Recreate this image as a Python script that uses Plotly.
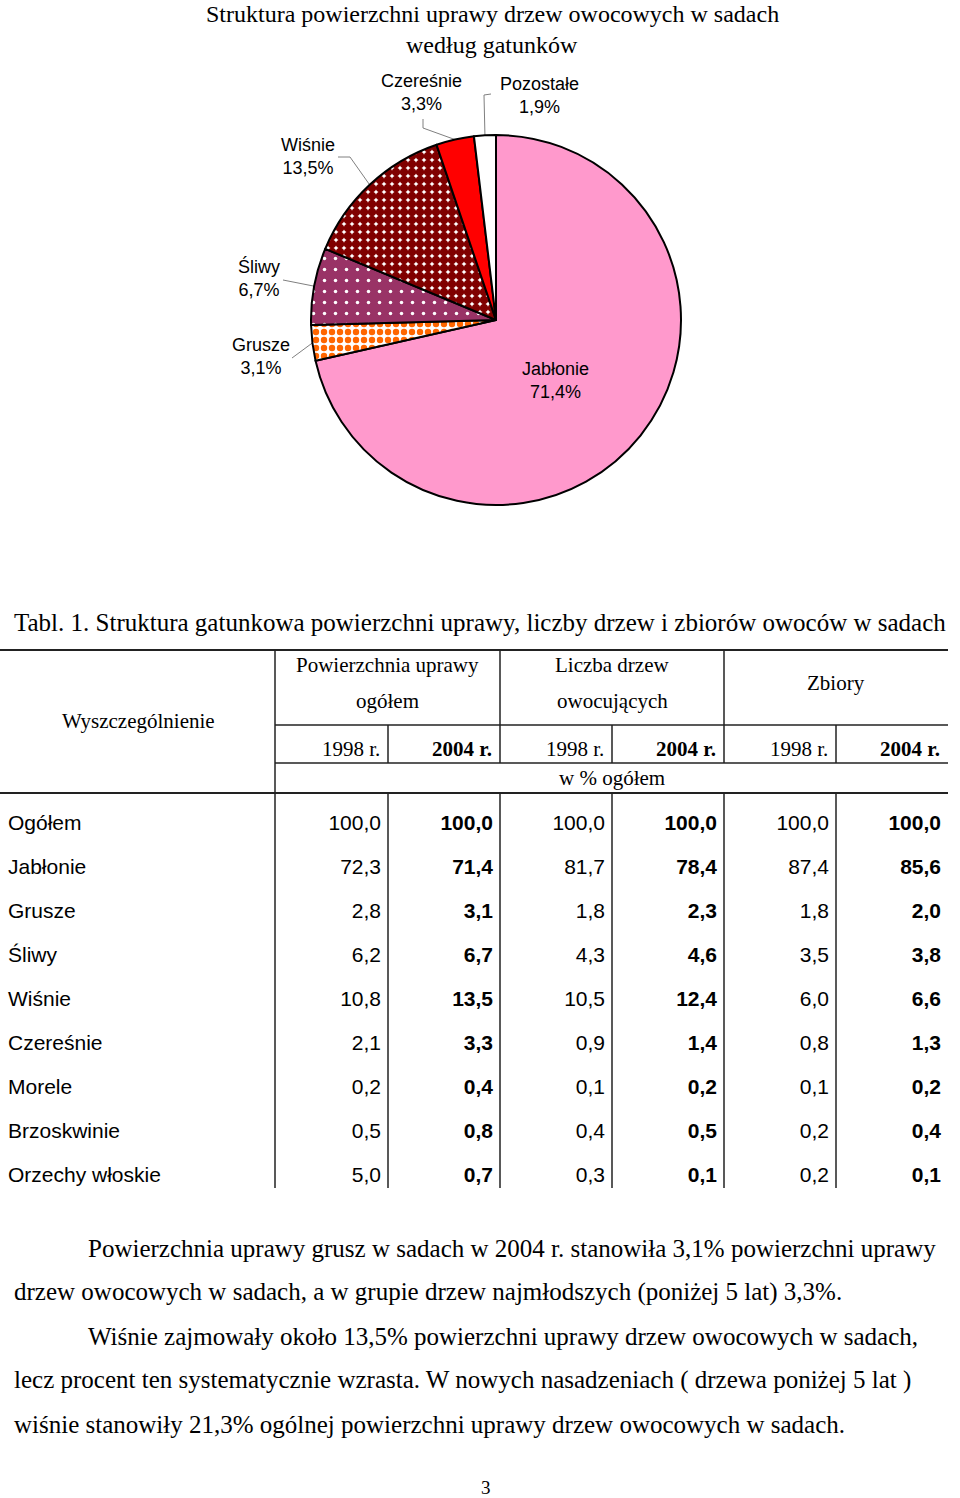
"""
plot.py — Pie chart + table page: structure of fruit orchards by species.
"""

import math

import plotly.graph_objects as go

# ============================================================
# Data
# ============================================================

pie_species = ["Jabłonie", "Grusze", "Śliwy", "Wiśnie", "Czereśnie", "Pozostałe"]
pie_share   = [71.4, 3.1, 6.7, 13.5, 3.3, 1.9]

row_names = ["Ogółem", "Jabłonie", "Grusze", "Śliwy", "Wiśnie", "Czereśnie",
             "Morele", "Brzoskwinie", "Orzechy włoskie"]
area_1998    = [100.0, 72.3, 2.8, 6.2, 10.8, 2.1, 0.2, 0.5, 5.0]
area_2004    = [100.0, 71.4, 3.1, 6.7, 13.5, 3.3, 0.4, 0.8, 0.7]
trees_1998   = [100.0, 81.7, 1.8, 4.3, 10.5, 0.9, 0.1, 0.4, 0.3]
trees_2004   = [100.0, 78.4, 2.3, 4.6, 12.4, 1.4, 0.2, 0.5, 0.1]
harvest_1998 = [100.0, 87.4, 1.8, 3.5, 6.0, 0.8, 0.1, 0.2, 0.2]
harvest_2004 = [100.0, 85.6, 2.0, 3.8, 6.6, 1.3, 0.2, 0.4, 0.1]

group_headers = [("Powierzchnia uprawy", "ogółem"), ("Liczba drzew", "owocujących"), ("Zbiory", "")]
year_labels   = ["1998 r.", "2004 r."]

title_lines = ["Struktura powierzchni uprawy drzew owocowych w sadach", "według gatunków"]

paragraph_lines = [
    "Powierzchnia uprawy grusz w sadach w 2004 r. stanowiła 3,1% powierzchni uprawy",
    "drzew owocowych w sadach, a w grupie drzew najmłodszych (poniżej 5 lat) 3,3%.",
    "Wiśnie zajmowały około 13,5% powierzchni uprawy drzew owocowych w sadach,",
    "lecz procent ten systematycznie wzrasta. W nowych nasadzeniach ( drzewa poniżej 5 lat )",
    "wiśnie stanowiły 21,3% ogólnej powierzchni uprawy drzew owocowych w sadach.",
]

# ============================================================
# Page geometry (pixels, y down)
# ============================================================

W, H = 960, 1498
SERIF = "Liberation Serif, Times New Roman, serif"
SANS  = "Liberation Sans, Arial, sans-serif"

PIE_CX, PIE_CY, PIE_R = 496, 320, 185

col_edges = [0, 275, 388, 500, 612, 724, 836, 948]
row_y0, row_pitch = 825, 44
table_bottom = 1188


def fmt(v):
    return f"{v:.1f}".replace(".", ",")


fig = go.Figure()

# ------------------------------------------------------------
# Pie
# ------------------------------------------------------------
fig.add_trace(go.Pie(
    labels=pie_species,
    values=pie_share,
    sort=False,
    direction="clockwise",
    rotation=0,
    textinfo="none",
    hoverinfo="skip",
    showlegend=False,
    domain=dict(x=[(PIE_CX - PIE_R) / W, (PIE_CX + PIE_R) / W],
                y=[1 - (PIE_CY + PIE_R) / H, 1 - (PIE_CY - PIE_R) / H]),
    marker=dict(
        colors=["#FF99CC", "#FF6600", "#993366", "#800000", "#FF0000", "#FFFFFF"],
        line=dict(color="#000000", width=2),
        pattern=dict(
            shape=["", ".", ".", ".", "", ""],
            bgcolor=["#FF99CC", "#FFFFFF", "#993366", "#FFFFFF", "#FF0000", "#FFFFFF"],
            fgcolor=["#FF99CC", "#FF6600", "#FFFFFF", "#800000", "#FF0000", "#FFFFFF"],
            size=[8, 8, 11, 8, 8, 8],
            solidity=[0.3, 0.5, 0.08, 0.82, 0.3, 0.3],
            fillmode="replace",
        ),
    ),
))

# Labels + leader lines (edge point from each slice's mid angle)
total = sum(pie_share)
label_pos = {
    "Jabłonie":  (555, 380, None),
    "Grusze":    (261, 356, [(292, 358)]),
    "Śliwy":     (259, 278, [(283, 280)]),
    "Wiśnie":    (308, 156, [(338, 157), (350, 157)]),
    "Czereśnie": (421, 92, [(423, 119), (423, 128)]),
    "Pozostałe": (539, 95, [(491, 94), (484, 95)]),
}
cum = 0.0
for name, share in zip(pie_species, pie_share):
    mid = (cum + share / 2) / total * 2 * math.pi
    cum += share
    lx, ly, elbow = label_pos[name]
    fig.add_annotation(x=lx, y=ly, xref="x", yref="y", showarrow=False,
                       text=f"{name}<br>{fmt(share)}%",
                       font=dict(family=SANS, size=18, color="#000000"))
    if elbow:
        ex = PIE_CX + PIE_R * math.sin(mid)
        ey = PIE_CY - PIE_R * math.cos(mid)
        pts = elbow + [(ex, ey)]
        fig.add_trace(go.Scatter(x=[p[0] for p in pts], y=[p[1] for p in pts],
                                 mode="lines", line=dict(color="#808080", width=1),
                                 hoverinfo="skip", showlegend=False))

for k, line in enumerate(title_lines):
    fig.add_annotation(x=492, y=14 + 31 * k, xref="x", yref="y", showarrow=False,
                       text=line, font=dict(family=SERIF, size=24, color="#000000"))

# ------------------------------------------------------------
# Table
# ------------------------------------------------------------
fig.add_annotation(x=12, y=622, xref="x", yref="y", xanchor="left", showarrow=False,
                   text="Tabl. 1. Struktura gatunkowa powierzchni uprawy, liczby drzew i zbiorów owoców w sadach",
                   font=dict(family=SERIF, size=25, color="#000000"))

dark = "#222222"
lines = [
    (0, 650, 948, 650, 2), (275, 725, 948, 725, 1.5), (275, 763, 948, 763, 1.5),
    (0, 793, 948, 793, 2), (275, 650, 275, table_bottom, 1.5),
    (500, 650, 500, 763, 1.5), (724, 650, 724, 763, 1.5),
]
for xe in col_edges[2:-1]:
    lines.append((xe, 793, xe, table_bottom, 1.5))
for xe in (388, 612, 836):
    lines.append((xe, 725, xe, 763, 1.5))
for x0, y0, x1, y1, w in lines:
    fig.add_shape(type="line", x0=x0, y0=y0, x1=x1, y1=y1, xref="x", yref="y",
                  line=dict(color=dark, width=w))

head_font = dict(family=SERIF, size=21, color="#000000")
fig.add_annotation(x=138, y=721, xref="x", yref="y", showarrow=False,
                   text="Wyszczególnienie", font=head_font)
for i, (top, bottom) in enumerate(group_headers):
    xc = (col_edges[1 + 2 * i] + col_edges[3 + 2 * i]) / 2
    if bottom:
        fig.add_annotation(x=xc, y=665, xref="x", yref="y", showarrow=False,
                           text=top, font=head_font)
        fig.add_annotation(x=xc, y=701, xref="x", yref="y", showarrow=False,
                           text=bottom, font=head_font)
    else:
        fig.add_annotation(x=xc, y=683, xref="x", yref="y", showarrow=False,
                           text=top, font=head_font)
    for j, yr in enumerate(year_labels):
        txt = yr if j == 0 else f"<b>{yr}</b>"
        fig.add_annotation(x=col_edges[2 + 2 * i + j] - 6, y=749, xref="x", yref="y",
                           xanchor="right", showarrow=False, text=txt, font=head_font)
fig.add_annotation(x=612, y=778, xref="x", yref="y", showarrow=False,
                   text="w % ogółem", font=head_font)

row_y = [row_y0 + row_pitch * i for i in range(len(row_names))]
fig.add_trace(go.Scatter(x=[8] * len(row_names), y=row_y, text=row_names,
                         mode="text", textposition="middle right",
                         textfont=dict(family=SANS, size=21, color="#000000"),
                         hoverinfo="skip", showlegend=False))

columns = [area_1998, area_2004, trees_1998, trees_2004, harvest_1998, harvest_2004]
for j, col in enumerate(columns):
    bold = j % 2 == 1
    texts = [f"<b>{fmt(v)}</b>" if bold else fmt(v) for v in col]
    fig.add_trace(go.Scatter(x=[col_edges[2 + j] - 7] * len(col), y=row_y, text=texts,
                             mode="text", textposition="middle left",
                             textfont=dict(family=SANS, size=21, color="#000000"),
                             hoverinfo="skip", showlegend=False))

# ------------------------------------------------------------
# Paragraph text + page number
# ------------------------------------------------------------
indent = [86, 12, 86, 12, 12]
for k, line in enumerate(paragraph_lines):
    fig.add_annotation(x=indent[k], y=1248 + 44 * k, xref="x", yref="y", xanchor="left",
                       showarrow=False, text=line,
                       font=dict(family=SERIF, size=25, color="#000000"))
fig.add_annotation(x=486, y=1487, xref="x", yref="y", showarrow=False, text="3",
                   font=dict(family=SERIF, size=19, color="#000000"))

fig.update_layout(
    width=W, height=H,
    margin=dict(l=0, r=0, t=0, b=0),
    paper_bgcolor="#FFFFFF", plot_bgcolor="#FFFFFF",
    xaxis=dict(range=[0, W], visible=False, fixedrange=True, domain=[0, 1]),
    yaxis=dict(range=[H, 0], visible=False, fixedrange=True, domain=[0, 1]),
)

# body has a default 8px margin; drop it so the page lines up with the window
fig.write_html("out.html", config={"displayModeBar": False},
               post_script="document.body.style.margin='0';")
